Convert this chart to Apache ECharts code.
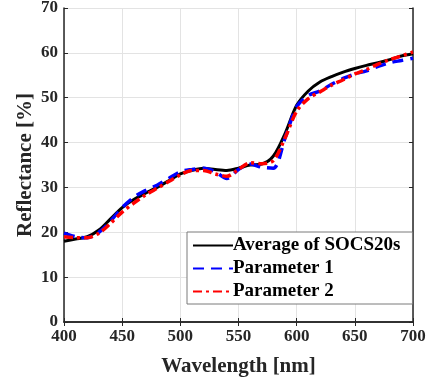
<!DOCTYPE html>
<html>
<head>
<meta charset="utf-8">
<script src="https://cdn.jsdelivr.net/npm/echarts@6/dist/echarts.min.js"></script>
<style>
  html, body { margin: 0; padding: 0; background: #fff; }
  #chart { width: 435px; height: 378px; }
</style>
</head>
<body>
<div id="chart"></div>
<script>
// wavelength samples (nm)
const wavelengths = [400, 410, 420, 430, 440, 450, 460, 470, 480, 490, 500, 510, 520, 530, 540, 550, 560, 570, 580, 590, 600, 610, 620, 630, 640, 650, 660, 670, 680, 690, 700];

const avgSocs = [18.0, 18.5, 19.0, 20.5, 23.0, 25.5, 27.3, 28.7, 30.0, 31.5, 33.0, 33.8, 34.3, 34.0, 33.8, 34.3, 35.0, 35.2, 37.0, 42.0, 48.3, 51.5, 53.5, 54.7, 55.7, 56.5, 57.2, 57.8, 58.5, 59.3, 59.8];
const param1 = [19.8, 19.0, 18.8, 20.0, 22.5, 25.5, 27.8, 29.3, 30.5, 32.0, 33.5, 34.0, 34.3, 33.5, 32.0, 34.0, 35.2, 34.5, 34.3, 41.0, 48.0, 50.5, 51.5, 53.0, 54.3, 55.3, 56.0, 57.0, 57.8, 58.3, 58.8];
const param2 = [19.0, 18.8, 18.8, 19.8, 22.0, 24.5, 26.5, 28.3, 29.8, 31.3, 32.8, 33.8, 33.8, 33.0, 32.5, 34.0, 35.5, 35.3, 36.0, 41.0, 47.0, 49.8, 51.3, 52.8, 54.0, 55.3, 56.3, 57.5, 58.5, 59.3, 60.2];

const seriesNames = ['Average of SOCS20s', 'Parameter 1', 'Parameter 2'];

const font = 'Liberation Serif, Times New Roman, serif';
const pair = (ys) => wavelengths.map((x, i) => [x, ys[i]]);

const chart = echarts.init(document.getElementById('chart'), null, { renderer: 'canvas' });

const gridLine = { show: true, lineStyle: { color: '#e3e3e3', width: 1 } };
const axisLine = { show: true, lineStyle: { color: '#262626', width: 1.5 } };

chart.setOption({
    animation: false,
    grid: { left: 64, right: 22, top: 8, bottom: 56, outerBoundsMode: 'none' },
    legend: {
        orient: 'vertical',
        left: 187,
        top: 232,
        padding: [4, 12, 3, 5],
        itemGap: 4,
        itemWidth: 40,
        itemHeight: 18,
        backgroundColor: '#fff',
        borderColor: '#7a7a7a',
        borderWidth: 1,
        itemStyle: { opacity: 0 },
        textStyle: { fontFamily: font, fontWeight: 'bold', fontSize: 19, color: '#000', padding: [0, 0, 0, -5] },
        data: seriesNames
    },
    xAxis: [
        {
            type: 'value',
            min: 400,
            max: 700,
            interval: 50,
            name: 'Wavelength [nm]',
            nameLocation: 'middle',
            nameGap: 34,
            nameMoveOverlap: false,
            nameTextStyle: { fontFamily: font, fontWeight: 'bold', fontSize: 21, color: '#262626' },
            axisLine: axisLine,
            axisTick: { show: true, inside: true, length: 4, lineStyle: { color: '#262626' } },
            axisLabel: { fontFamily: font, fontWeight: 'bold', fontSize: 17, color: '#262626', margin: 6 },
            splitLine: gridLine
        },
        {
            type: 'value',
            position: 'top',
            min: 400,
            max: 700,
            interval: 50,
            axisLine: axisLine,
            axisTick: { show: true, inside: true, length: 4, lineStyle: { color: '#262626' } },
            axisLabel: { show: false },
            splitLine: { show: false }
        }
    ],
    yAxis: [
        {
            type: 'value',
            min: 0,
            max: 70,
            interval: 10,
            name: 'Reflectance [%]',
            nameLocation: 'middle',
            nameGap: 28,
            nameMoveOverlap: false,
            nameTextStyle: { fontFamily: font, fontWeight: 'bold', fontSize: 21, color: '#262626' },
            axisLine: axisLine,
            axisTick: { show: true, inside: true, length: 4, lineStyle: { color: '#262626' } },
            axisLabel: { fontFamily: font, fontWeight: 'bold', fontSize: 17, color: '#262626', margin: 6 },
            splitLine: gridLine
        },
        {
            type: 'value',
            position: 'right',
            min: 0,
            max: 70,
            interval: 10,
            axisLine: axisLine,
            axisTick: { show: true, inside: true, length: 4, lineStyle: { color: '#262626' } },
            axisLabel: { show: false },
            splitLine: { show: false }
        }
    ],
    series: [
        {
            name: seriesNames[0],
            type: 'line',
            symbol: 'none',
            smooth: 0.3,
            lineStyle: { color: '#000', width: 3 },
            itemStyle: { color: '#000' },
            data: pair(avgSocs),
            z: 2
        },
        {
            name: seriesNames[1],
            type: 'line',
            symbol: 'none',
            smooth: 0.3,
            lineStyle: { color: '#0000ff', width: 3.5, type: [11, 7] },
            itemStyle: { color: '#0000ff' },
            data: pair(param1),
            z: 3
        },
        {
            name: seriesNames[2],
            type: 'line',
            symbol: 'none',
            smooth: 0.3,
            lineStyle: { color: '#ff0000', width: 3.5, type: [9, 4, 3, 4] },
            itemStyle: { color: '#ff0000' },
            data: pair(param2),
            z: 4
        }
    ]
});
</script>
</body>
</html>
